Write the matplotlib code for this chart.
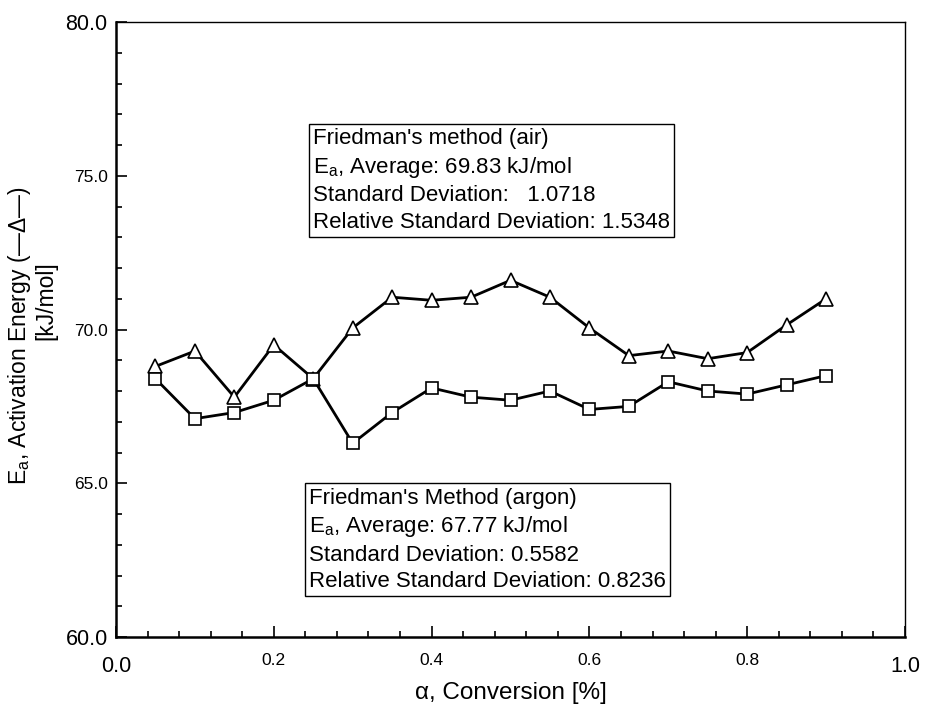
import matplotlib
matplotlib.use("Agg")
import matplotlib.pyplot as plt
from matplotlib.ticker import MultipleLocator, FixedLocator

plt.rcParams["font.family"] = ["Liberation Sans", "DejaVu Sans"]
plt.rcParams["mathtext.fontset"] = "custom"
plt.rcParams["mathtext.rm"] = "Liberation Sans"

# ---------------------------------- data ----------------------------------
conversion = [0.05, 0.10, 0.15, 0.20, 0.25, 0.30, 0.35, 0.40, 0.45,
              0.50, 0.55, 0.60, 0.65, 0.70, 0.75, 0.80, 0.85, 0.90]
ea_air = [68.8, 69.3, 67.8, 69.5, 68.4, 70.05, 71.05, 70.95, 71.05,
          71.6, 71.05, 70.05, 69.15, 69.3, 69.05, 69.25, 70.15, 71.0]
ea_argon = [68.4, 67.1, 67.3, 67.7, 68.4, 66.3, 67.3, 68.1, 67.8,
            67.7, 68.0, 67.4, 67.5, 68.3, 68.0, 67.9, 68.2, 68.5]

air_text = ["Friedman's method (air)",
            "E$_\\mathregular{a}$, Average: 69.83 kJ/mol",
            "Standard Deviation:   1.0718",
            "Relative Standard Deviation: 1.5348"]
argon_text = ["Friedman's Method (argon)",
              "E$_\\mathregular{a}$, Average: 67.77 kJ/mol",
              "Standard Deviation: 0.5582",
              "Relative Standard Deviation: 0.8236"]

x_ticks = [0.0, 0.2, 0.4, 0.6, 0.8, 1.0]
y_ticks = [60.0, 65.0, 70.0, 75.0, 80.0]

# ---------------------------------- figure ----------------------------------
W, H = 927, 707
fig = plt.figure(figsize=(W / 100, H / 100), dpi=100)
ax = fig.add_axes([116 / W, 1 - 637 / H, 789 / W, 615 / H])

ax.plot(conversion, ea_air, color="black", lw=2.0, marker="^", ms=10,
        mfc="white", mec="black", mew=1.2, zorder=3)
ax.plot(conversion, ea_argon, color="black", lw=2.0, marker="s", ms=8,
        mfc="white", mec="black", mew=1.2, zorder=3)

ax.set_xlim(0, 1)
ax.set_ylim(60, 80)

# spines: left/bottom heavier like the scanned original
for side in ["left", "bottom"]:
    ax.spines[side].set_linewidth(1.8)
for side in ["top", "right"]:
    ax.spines[side].set_linewidth(1.0)

ax.xaxis.set_major_locator(FixedLocator(x_ticks))
ax.xaxis.set_minor_locator(MultipleLocator(0.04))
ax.yaxis.set_major_locator(FixedLocator(y_ticks))
ax.yaxis.set_minor_locator(MultipleLocator(1.0))
ax.tick_params(which="both", direction="in", top=False, right=False, width=1.2)
ax.tick_params(which="major", length=8)
ax.tick_params(which="minor", length=4)

# tick labels: end labels bigger, middle ones smaller (as in original)
ax.set_xticklabels(["%.1f" % v for v in x_ticks])
ax.set_yticklabels(["%.1f" % v for v in y_ticks])
for i, lab in enumerate(ax.get_xticklabels()):
    if i in (0, len(x_ticks) - 1):
        lab.set_fontsize(15.5)
    else:
        lab.set_fontsize(12.5)
        lab.set_y(0.006)
for i, lab in enumerate(ax.get_yticklabels()):
    lab.set_fontsize(15.5 if i in (0, len(y_ticks) - 1) else 12.5)
ax.tick_params(axis="x", which="major", pad=14)
ax.tick_params(axis="y", which="major", pad=6)

ax.set_xlabel("α, Conversion [%]", fontsize=17.5, labelpad=3)

# y label: two rotated lines, second one sits a bit higher
fig.text(20 / W, 1 - 336 / H, "E$_\\mathregular{a}$, Activation Energy (—Δ—)",
         fontsize=16.5, rotation=90, ha="center", va="center")
fig.text(46 / W, 1 - 301 / H, "[kJ/mol]",
         fontsize=16.5, rotation=90, ha="center", va="center")

box = dict(boxstyle="square,pad=0.2", facecolor="white", edgecolor="black", lw=1.0)
ax.text(0.2497, 76.55, "\n".join(air_text), fontsize=16, va="top", ha="left",
        linespacing=1.33, bbox=box, zorder=4)
ax.text(0.2446, 64.86, "\n".join(argon_text), fontsize=16, va="top", ha="left",
        linespacing=1.33, bbox=box, zorder=4)

fig.savefig("out.png", dpi=100)
